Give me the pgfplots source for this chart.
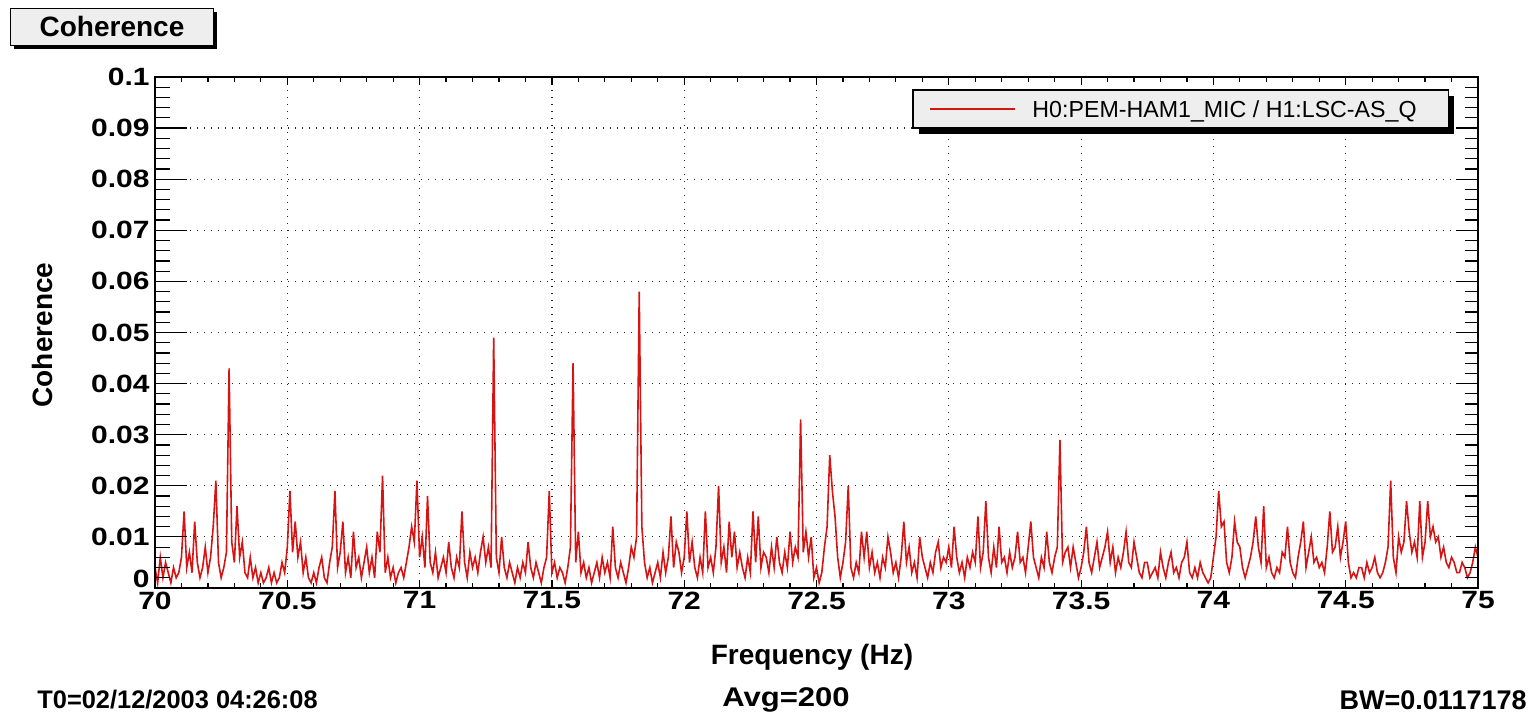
\documentclass[border=0pt]{standalone}
\usepackage{pgfplots}
\pgfplotsset{compat=1.18}
\usepackage{pgfplotstable}
\usepackage{fontspec}
\setmainfont{Liberation Sans}
\newfontfamily\tickfont[FakeStretch=1.2]{Liberation Sans}
\usetikzlibrary{shadows}
\definecolor{trace}{RGB}{215,20,20}
\definecolor{boxgray}{RGB}{238,238,238}

\pgfplotstableread[row sep=\\]{
x y\\
70.00 0.004\\ 70.01 0.001\\ 70.02 0.006\\ 70.03 0.002\\ 70.04 0.005\\ 70.05 0.003\\ 70.06 0.001\\ 70.07 0.004\\ 70.08 0.002\\ 70.09 0.003\\
70.10 0.006\\ 70.11 0.015\\ 70.12 0.004\\ 70.13 0.007\\ 70.14 0.003\\ 70.15 0.013\\ 70.16 0.005\\ 70.17 0.002\\ 70.18 0.004\\ 70.19 0.008\\
70.20 0.003\\ 70.21 0.006\\ 70.22 0.012\\ 70.23 0.021\\ 70.24 0.005\\ 70.25 0.002\\ 70.26 0.004\\ 70.27 0.007\\ 70.28 0.043\\ 70.29 0.009\\
70.30 0.005\\ 70.31 0.016\\ 70.32 0.006\\ 70.33 0.009\\ 70.34 0.003\\ 70.35 0.002\\ 70.36 0.006\\ 70.37 0.002\\ 70.38 0.004\\ 70.39 0.001\\
70.40 0.003\\ 70.41 0.001\\ 70.42 0.002\\ 70.43 0.004\\ 70.44 0.001\\ 70.45 0.003\\ 70.46 0.001\\ 70.47 0.002\\ 70.48 0.005\\ 70.49 0.003\\
70.50 0.008\\ 70.51 0.019\\ 70.52 0.007\\ 70.53 0.013\\ 70.54 0.006\\ 70.55 0.009\\ 70.56 0.003\\ 70.57 0.006\\ 70.58 0.002\\ 70.59 0.001\\
70.60 0.003\\ 70.61 0.001\\ 70.62 0.004\\ 70.63 0.006\\ 70.64 0.002\\ 70.65 0.001\\ 70.66 0.005\\ 70.67 0.008\\ 70.68 0.019\\ 70.69 0.004\\
70.70 0.007\\ 70.71 0.013\\ 70.72 0.003\\ 70.73 0.006\\ 70.74 0.002\\ 70.75 0.011\\ 70.76 0.004\\ 70.77 0.006\\ 70.78 0.002\\ 70.79 0.005\\
70.80 0.008\\ 70.81 0.003\\ 70.82 0.006\\ 70.83 0.002\\ 70.84 0.011\\ 70.85 0.007\\ 70.86 0.022\\ 70.87 0.003\\ 70.88 0.006\\ 70.89 0.002\\
70.90 0.004\\ 70.91 0.001\\ 70.92 0.003\\ 70.93 0.004\\ 70.94 0.002\\ 70.95 0.005\\ 70.96 0.008\\ 70.97 0.012\\ 70.98 0.009\\ 70.99 0.021\\
71.00 0.006\\ 71.01 0.010\\ 71.02 0.004\\ 71.03 0.018\\ 71.04 0.005\\ 71.05 0.003\\ 71.06 0.007\\ 71.07 0.002\\ 71.08 0.004\\ 71.09 0.006\\
71.10 0.003\\ 71.11 0.009\\ 71.12 0.004\\ 71.13 0.002\\ 71.14 0.006\\ 71.15 0.004\\ 71.16 0.015\\ 71.17 0.005\\ 71.18 0.002\\ 71.19 0.007\\
71.20 0.004\\ 71.21 0.006\\ 71.22 0.003\\ 71.23 0.007\\ 71.24 0.010\\ 71.25 0.005\\ 71.26 0.008\\ 71.27 0.004\\ 71.28 0.049\\ 71.29 0.006\\
71.30 0.003\\ 71.31 0.010\\ 71.32 0.004\\ 71.33 0.002\\ 71.34 0.005\\ 71.35 0.003\\ 71.36 0.001\\ 71.37 0.004\\ 71.38 0.002\\ 71.39 0.005\\
71.40 0.003\\ 71.41 0.009\\ 71.42 0.004\\ 71.43 0.002\\ 71.44 0.005\\ 71.45 0.003\\ 71.46 0.001\\ 71.47 0.004\\ 71.48 0.006\\ 71.49 0.019\\
71.50 0.003\\ 71.51 0.005\\ 71.52 0.002\\ 71.53 0.004\\ 71.54 0.003\\ 71.55 0.001\\ 71.56 0.004\\ 71.57 0.008\\ 71.58 0.044\\ 71.59 0.005\\
71.60 0.011\\ 71.61 0.003\\ 71.62 0.005\\ 71.63 0.002\\ 71.64 0.004\\ 71.65 0.001\\ 71.66 0.003\\ 71.67 0.005\\ 71.68 0.002\\ 71.69 0.006\\
71.70 0.003\\ 71.71 0.005\\ 71.72 0.002\\ 71.73 0.012\\ 71.74 0.004\\ 71.75 0.002\\ 71.76 0.005\\ 71.77 0.003\\ 71.78 0.001\\ 71.79 0.004\\
71.80 0.008\\ 71.81 0.006\\ 71.82 0.010\\ 71.83 0.058\\ 71.84 0.012\\ 71.85 0.005\\ 71.86 0.002\\ 71.87 0.004\\ 71.88 0.001\\ 71.89 0.003\\
71.90 0.005\\ 71.91 0.002\\ 71.92 0.007\\ 71.93 0.003\\ 71.94 0.006\\ 71.95 0.014\\ 71.96 0.004\\ 71.97 0.009\\ 71.98 0.007\\ 71.99 0.003\\
72.00 0.006\\ 72.01 0.015\\ 72.02 0.005\\ 72.03 0.009\\ 72.04 0.004\\ 72.05 0.002\\ 72.06 0.006\\ 72.07 0.003\\ 72.08 0.015\\ 72.09 0.004\\
72.10 0.006\\ 72.11 0.003\\ 72.12 0.008\\ 72.13 0.020\\ 72.14 0.005\\ 72.15 0.008\\ 72.16 0.003\\ 72.17 0.013\\ 72.18 0.006\\ 72.19 0.011\\
72.20 0.004\\ 72.21 0.007\\ 72.22 0.004\\ 72.23 0.002\\ 72.24 0.006\\ 72.25 0.003\\ 72.26 0.015\\ 72.27 0.005\\ 72.28 0.014\\ 72.29 0.004\\
72.30 0.007\\ 72.31 0.006\\ 72.32 0.003\\ 72.33 0.008\\ 72.34 0.004\\ 72.35 0.010\\ 72.36 0.005\\ 72.37 0.003\\ 72.38 0.007\\ 72.39 0.004\\
72.40 0.011\\ 72.41 0.005\\ 72.42 0.008\\ 72.43 0.006\\ 72.44 0.033\\ 72.45 0.007\\ 72.46 0.011\\ 72.47 0.006\\ 72.48 0.010\\ 72.49 0.002\\
72.50 0.004\\ 72.51 0.001\\ 72.52 0.003\\ 72.53 0.008\\ 72.54 0.012\\ 72.55 0.026\\ 72.56 0.019\\ 72.57 0.014\\ 72.58 0.006\\ 72.59 0.002\\
72.60 0.005\\ 72.61 0.009\\ 72.62 0.020\\ 72.63 0.004\\ 72.64 0.002\\ 72.65 0.005\\ 72.66 0.003\\ 72.67 0.011\\ 72.68 0.006\\ 72.69 0.011\\
72.70 0.004\\ 72.71 0.007\\ 72.72 0.003\\ 72.73 0.005\\ 72.74 0.002\\ 72.75 0.006\\ 72.76 0.004\\ 72.77 0.010\\ 72.78 0.007\\ 72.79 0.003\\
72.80 0.005\\ 72.81 0.002\\ 72.82 0.006\\ 72.83 0.013\\ 72.84 0.005\\ 72.85 0.008\\ 72.86 0.003\\ 72.87 0.005\\ 72.88 0.002\\ 72.89 0.010\\
72.90 0.006\\ 72.91 0.004\\ 72.92 0.002\\ 72.93 0.005\\ 72.94 0.003\\ 72.95 0.007\\ 72.96 0.009\\ 72.97 0.004\\ 72.98 0.006\\ 72.99 0.005\\
73.00 0.008\\ 73.01 0.004\\ 73.02 0.012\\ 73.03 0.006\\ 73.04 0.003\\ 73.05 0.005\\ 73.06 0.002\\ 73.07 0.006\\ 73.08 0.004\\ 73.09 0.007\\
73.10 0.005\\ 73.11 0.014\\ 73.12 0.004\\ 73.13 0.007\\ 73.14 0.017\\ 73.15 0.006\\ 73.16 0.003\\ 73.17 0.008\\ 73.18 0.004\\ 73.19 0.012\\
73.20 0.005\\ 73.21 0.006\\ 73.22 0.003\\ 73.23 0.007\\ 73.24 0.004\\ 73.25 0.006\\ 73.26 0.011\\ 73.27 0.005\\ 73.28 0.006\\ 73.29 0.003\\
73.30 0.008\\ 73.31 0.013\\ 73.32 0.006\\ 73.33 0.004\\ 73.34 0.002\\ 73.35 0.006\\ 73.36 0.004\\ 73.37 0.011\\ 73.38 0.005\\ 73.39 0.003\\
73.40 0.006\\ 73.41 0.008\\ 73.42 0.029\\ 73.43 0.005\\ 73.44 0.007\\ 73.45 0.008\\ 73.46 0.004\\ 73.47 0.008\\ 73.48 0.005\\ 73.49 0.002\\
73.50 0.004\\ 73.51 0.007\\ 73.52 0.012\\ 73.53 0.005\\ 73.54 0.003\\ 73.55 0.006\\ 73.56 0.009\\ 73.57 0.004\\ 73.58 0.006\\ 73.59 0.008\\
73.60 0.011\\ 73.61 0.005\\ 73.62 0.008\\ 73.63 0.003\\ 73.64 0.006\\ 73.65 0.004\\ 73.66 0.007\\ 73.67 0.011\\ 73.68 0.005\\ 73.69 0.004\\
73.70 0.009\\ 73.71 0.006\\ 73.72 0.003\\ 73.73 0.002\\ 73.74 0.005\\ 73.75 0.005\\ 73.76 0.002\\ 73.77 0.003\\ 73.78 0.004\\ 73.79 0.002\\
73.80 0.007\\ 73.81 0.004\\ 73.82 0.002\\ 73.83 0.005\\ 73.84 0.007\\ 73.85 0.003\\ 73.86 0.004\\ 73.87 0.002\\ 73.88 0.005\\ 73.89 0.006\\
73.90 0.009\\ 73.91 0.003\\ 73.92 0.002\\ 73.93 0.004\\ 73.94 0.002\\ 73.95 0.005\\ 73.96 0.003\\ 73.97 0.002\\ 73.98 0.001\\ 73.99 0.002\\
74.00 0.006\\ 74.01 0.010\\ 74.02 0.019\\ 74.03 0.012\\ 74.04 0.013\\ 74.05 0.005\\ 74.06 0.003\\ 74.07 0.006\\ 74.08 0.013\\ 74.09 0.009\\
74.10 0.008\\ 74.11 0.004\\ 74.12 0.002\\ 74.13 0.004\\ 74.14 0.006\\ 74.15 0.009\\ 74.16 0.014\\ 74.17 0.008\\ 74.18 0.005\\ 74.19 0.016\\
74.20 0.004\\ 74.21 0.006\\ 74.22 0.003\\ 74.23 0.002\\ 74.24 0.004\\ 74.25 0.003\\ 74.26 0.007\\ 74.27 0.006\\ 74.28 0.012\\ 74.29 0.005\\
74.30 0.003\\ 74.31 0.002\\ 74.32 0.006\\ 74.33 0.009\\ 74.34 0.013\\ 74.35 0.004\\ 74.36 0.007\\ 74.37 0.010\\ 74.38 0.005\\ 74.39 0.006\\
74.40 0.004\\ 74.41 0.005\\ 74.42 0.003\\ 74.43 0.008\\ 74.44 0.015\\ 74.45 0.007\\ 74.46 0.008\\ 74.47 0.012\\ 74.48 0.006\\ 74.49 0.009\\
74.50 0.013\\ 74.51 0.005\\ 74.52 0.002\\ 74.53 0.003\\ 74.54 0.002\\ 74.55 0.004\\ 74.56 0.004\\ 74.57 0.002\\ 74.58 0.005\\ 74.59 0.003\\
74.60 0.004\\ 74.61 0.006\\ 74.62 0.003\\ 74.63 0.002\\ 74.64 0.003\\ 74.65 0.005\\ 74.66 0.008\\ 74.67 0.021\\ 74.68 0.006\\ 74.69 0.003\\
74.70 0.010\\ 74.71 0.007\\ 74.72 0.009\\ 74.73 0.017\\ 74.74 0.011\\ 74.75 0.007\\ 74.76 0.009\\ 74.77 0.006\\ 74.78 0.017\\ 74.79 0.006\\
74.80 0.009\\ 74.81 0.017\\ 74.82 0.010\\ 74.83 0.012\\ 74.84 0.009\\ 74.85 0.010\\ 74.86 0.006\\ 74.87 0.008\\ 74.88 0.005\\ 74.89 0.004\\
74.90 0.006\\ 74.91 0.005\\ 74.92 0.003\\ 74.93 0.003\\ 74.94 0.005\\ 74.95 0.004\\ 74.96 0.002\\ 74.97 0.003\\ 74.98 0.005\\ 74.99 0.008\\
75.00 0.006\\
}\coh

\pgfplotsset{
  cohframe/.style={
    scale only axis, width=661.5pt, height=255.5pt,
    xmin=70, xmax=75, ymin=0, ymax=0.1,
    axis line style={line width=1pt, black},
    every tick/.style={black, line width=0.6pt},
    tick align=inside,
  },
}

\begin{document}
\begin{tikzpicture}
\begin{axis}[
  cohframe,
  xtick={70,70.5,71,71.5,72,72.5,73,73.5,74,74.5,75},
  xticklabels={70,70.5,71,71.5,72,72.5,73,73.5,74,74.5,75},
  ytick={0.01,0.02,0.03,0.04,0.05,0.06,0.07,0.08,0.09,0.1},
  yticklabels={0.01,0.02,0.03,0.04,0.05,0.06,0.07,0.08,0.09,0.1},
  extra y ticks={0}, extra y tick labels={0},
  extra y tick style={yticklabel style={yshift=4.5pt}},
  scaled y ticks=false, scaled x ticks=false,
  minor x tick num=4, minor y tick num=4,
  tick pos=both,
  major tick length=4pt, minor tick length=2.5pt,
  grid=major,
  major grid style={black!85, line width=0.6pt, dash pattern=on 0.7pt off 2.8pt},
  ticklabel style={font=\tickfont\bfseries\fontsize{12.5}{12.5}\selectfont, inner sep=0.5pt},
  xticklabel style={yshift=-1.2pt},
  yticklabel style={xshift=-2pt},
  label style={font=\bfseries\fontsize{14}{14}\selectfont},
  xlabel={Frequency (Hz)}, ylabel={Coherence},
  xlabel style={at={(axis description cs:0.4966,-0.135)}, anchor=center},
  ylabel style={at={(axis description cs:-0.0854,0.495)}, anchor=center},
  legend style={at={(0.573,0.9746)}, anchor=north west, draw=none, fill=none,
    inner sep=0pt, column sep=0pt, font=\fontsize{11.6}{11.6}\selectfont,
    nodes={inner sep=0pt}},
  legend image code/.code={},
]
\addplot[trace, line width=0.8pt] table[x=x, y=y] {\coh};
\addlegendentry{\rule[-5.6pt]{0pt}{19pt}\hspace*{8.5pt}\textcolor{trace}{\rule[3.75pt]{42.5pt}{0.8pt}}\hspace*{8.5pt}\makebox[208pt][l]{H0:PEM-HAM1\_MIC / H1:LSC-AS\_Q}}
% legend frame with its drop shadow (legend box: rel x 0.573..0.9774, top rel y 0.9746, 19pt tall)
\fill[black] ([shift={(3pt,-3pt)}]axis description cs:0.573,0.9746) rectangle ([shift={(3pt,-22pt)}]axis description cs:0.9774,0.9746);
\draw[black, line width=0.6pt, fill=boxgray] (axis description cs:0.573,0.9746) rectangle ([yshift=-19pt]axis description cs:0.9774,0.9746);
\end{axis}
% long y ticks, left side
\begin{axis}[cohframe, xtick=\empty,
  ytick={0,0.01,0.02,0.03,0.04,0.05,0.06,0.07,0.08,0.09,0.1}, yticklabels={},
  minor y tick num=4, ytick pos=left,
  major tick length=16pt, minor tick length=7.5pt]
\end{axis}
% long y ticks, right side
\begin{axis}[cohframe, xtick=\empty,
  ytick={0,0.01,0.02,0.03,0.04,0.05,0.06,0.07,0.08,0.09,0.1}, yticklabels={},
  minor y tick num=4, ytick pos=right,
  major tick length=11pt, minor tick length=6.5pt]
\end{axis}
\node[draw=black, line width=0.6pt, fill=boxgray, minimum width=101.5pt, minimum height=18.5pt,
  inner sep=0pt, font=\bfseries\fontsize{14}{14}\selectfont,
  drop shadow={shadow xshift=2pt, shadow yshift=-2pt, fill=black, opacity=1}]
  at ([shift={(-21.5pt,280.5pt)}]current axis.south west) {Coherence};
\node[anchor=west, inner sep=0pt, font=\bfseries\fontsize{12.7}{12.7}\selectfont]
  at ([shift={(-59pt,-56pt)}]current axis.south west) {T0=02/12/2003 04:26:08};
\node[anchor=center, inner sep=0pt, font=\bfseries\fontsize{13.5}{13.5}\selectfont]
  at ([shift={(315.5pt,-56pt)}]current axis.south west) {\scalebox{1.15}[1]{Avg=200}};
\node[anchor=east, inner sep=0pt, font=\bfseries\fontsize{13.5}{13.5}\selectfont]
  at ([shift={(686pt,-56pt)}]current axis.south west) {BW=0.0117178};
\path ([shift={(-77.5pt,-64pt)}]current axis.south west) rectangle ([shift={(27.5pt,38.5pt)}]current axis.north east);
\end{tikzpicture}
\end{document}
